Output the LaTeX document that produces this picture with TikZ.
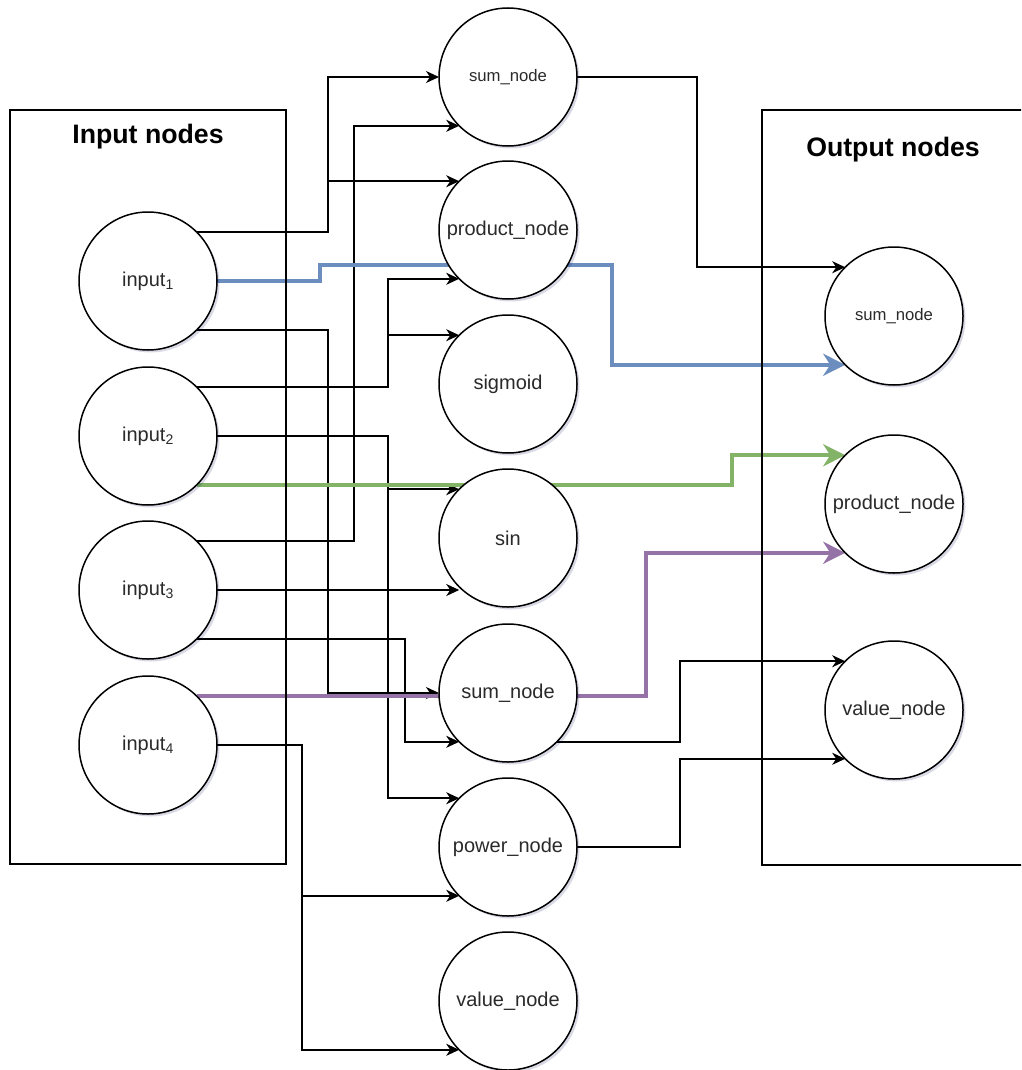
\documentclass[tikz,border=0pt]{standalone}
\usepackage{fontspec}
\setmainfont{Liberation Sans}
\usetikzlibrary{arrows.meta,shadows}
\pgfdeclarelayer{wires}
\pgfsetlayers{wires,main}

\definecolor{wblue}{HTML}{6C8EBF}
\definecolor{wgreen}{HTML}{82B366}
\definecolor{wpurple}{HTML}{9673A6}
\definecolor{ink}{HTML}{2A2A2A}

\tikzset{
  unit/.style={circle, draw=black, fill=white, line width=1.5pt,
    minimum size=138pt, inner sep=0pt, outer sep=0pt, text=ink,
    font=\fontsize{20}{24}\selectfont,
    drop shadow={shadow xshift=2.5pt, shadow yshift=-2.5pt,
      fill=blue!35!black, opacity=0.15}},
  smallunit/.style={unit, font=\fontsize{16.7}{20}\selectfont},
  frame/.style={draw=black, line width=1.5pt, anchor=north west,
    inner sep=0pt, outer sep=0pt},
  title/.style={font=\bfseries\fontsize{26.7}{32}\selectfont, text=black},
  wire/.style={draw=black, line width=1.5pt,
    -{Stealth[length=13pt, width=12pt, inset=4pt]}},
  cwire/.style={line width=3.8pt,
    -{Stealth[length=22pt, width=22pt, inset=7pt]}},
}

\begin{document}
\begin{tikzpicture}[x=1pt, y=-1pt]
\useasboundingbox (0,0) rectangle (1021,1070);
\clip (0,0) rectangle (1021,1070);

% group frames
\node[frame, minimum width=276pt, minimum height=754pt] (inbox) at (10,110) {};
\node[frame, minimum width=300pt, minimum height=755pt] (outbox) at (762,110) {};
\node[title] (intitle) at (148,137) {Input nodes};
\node[title] (outtitle) at (893,150) {Output nodes};

% input layer
\node[unit] (in1) at (148,281) {input\textsubscript{1}};
\node[unit] (in2) at (148,436) {input\textsubscript{2}};
\node[unit] (in3) at (148,590) {input\textsubscript{3}};
\node[unit] (in4) at (148,745) {input\textsubscript{4}};

% operation layer
\node[smallunit] (sumA) at (508,77) {sum\_node};
\node[unit] (prodA) at (508,230) {product\_node};
\node[unit] (sig) at (508,384) {sigmoid};
\node[unit] (sin) at (508,538) {sin};
\node[unit] (sumB) at (508,693) {sum\_node};
\node[unit] (pow) at (508,847) {power\_node};
\node[unit] (val) at (508,1001) {value\_node};

% output layer
\node[smallunit] (outSum) at (894,316) {sum\_node};
\node[unit] (outProd) at (894,504) {product\_node};
\node[unit] (outVal) at (894,710) {value\_node};

% bend points of the orthogonal connectors
\coordinate (ka) at (328,150);
\coordinate (kb) at (328,500);
\coordinate (kc) at (388,360);
\coordinate (kd) at (388,460);
\coordinate (ke) at (354,300);
\coordinate (kf) at (405,700);
\coordinate (kg) at (302,800);
\coordinate (kh) at (697,170);
\coordinate (ki) at (680,700);
\coordinate (kj) at (680,800);
\coordinate (bu1) at (320,265);
\coordinate (bu2) at (612,265);
\coordinate (gr) at (732,470);
\coordinate (pu) at (646,620);

\begin{pgfonlayer}{wires}
  % input -> operation
  \draw[wire] (in1.45) -| (ka) |- (sumA.west);
  \draw[wire] (in1.45) -| (ka) |- (prodA.135);
  \draw[wire] (in1.-45) -| (kb) |- (sumB.west);
  \draw[wire] (in2.45) -| (kc) |- (sig.135);
  \draw[wire] (in2.45) -| (kc) |- (prodA.-135);
  \draw[wire] (in2.east) -| (kd) |- (sin.135);
  \draw[wire] (in2.east) -| (kd) |- (pow.135);
  \draw[wire] (in3.45) -| (ke) |- (sumA.-135);
  \draw[wire] (in3.east) -- (sin.-135 |- in3.east);
  \draw[wire] (in3.-45) -| (kf) |- (sumB.-135);
  \draw[wire] (in4.east) -| (kg) |- (pow.-135);
  \draw[wire] (in4.east) -| (kg) |- (val.-135);
  % operation -> output
  \draw[wire] (sumA.east) -| (kh) |- (outSum.135);
  \draw[wire] (sumB.-45) -| (ki) |- (outVal.135);
  \draw[wire] (pow.east) -| (kj) |- (outVal.-135);
  % highlighted direct routes
  \draw[cwire, draw=wblue, color=wblue] (in1.east) -| (bu1) -- (bu2) |- (outSum.-135);
  \draw[cwire, draw=wgreen, color=wgreen] (in2.-45) -| (gr) |- (outProd.135);
  \draw[cwire, draw=wpurple, color=wpurple] (in4.45) -| (pu) |- (outProd.-135);
\end{pgfonlayer}
\end{tikzpicture}
\end{document}
